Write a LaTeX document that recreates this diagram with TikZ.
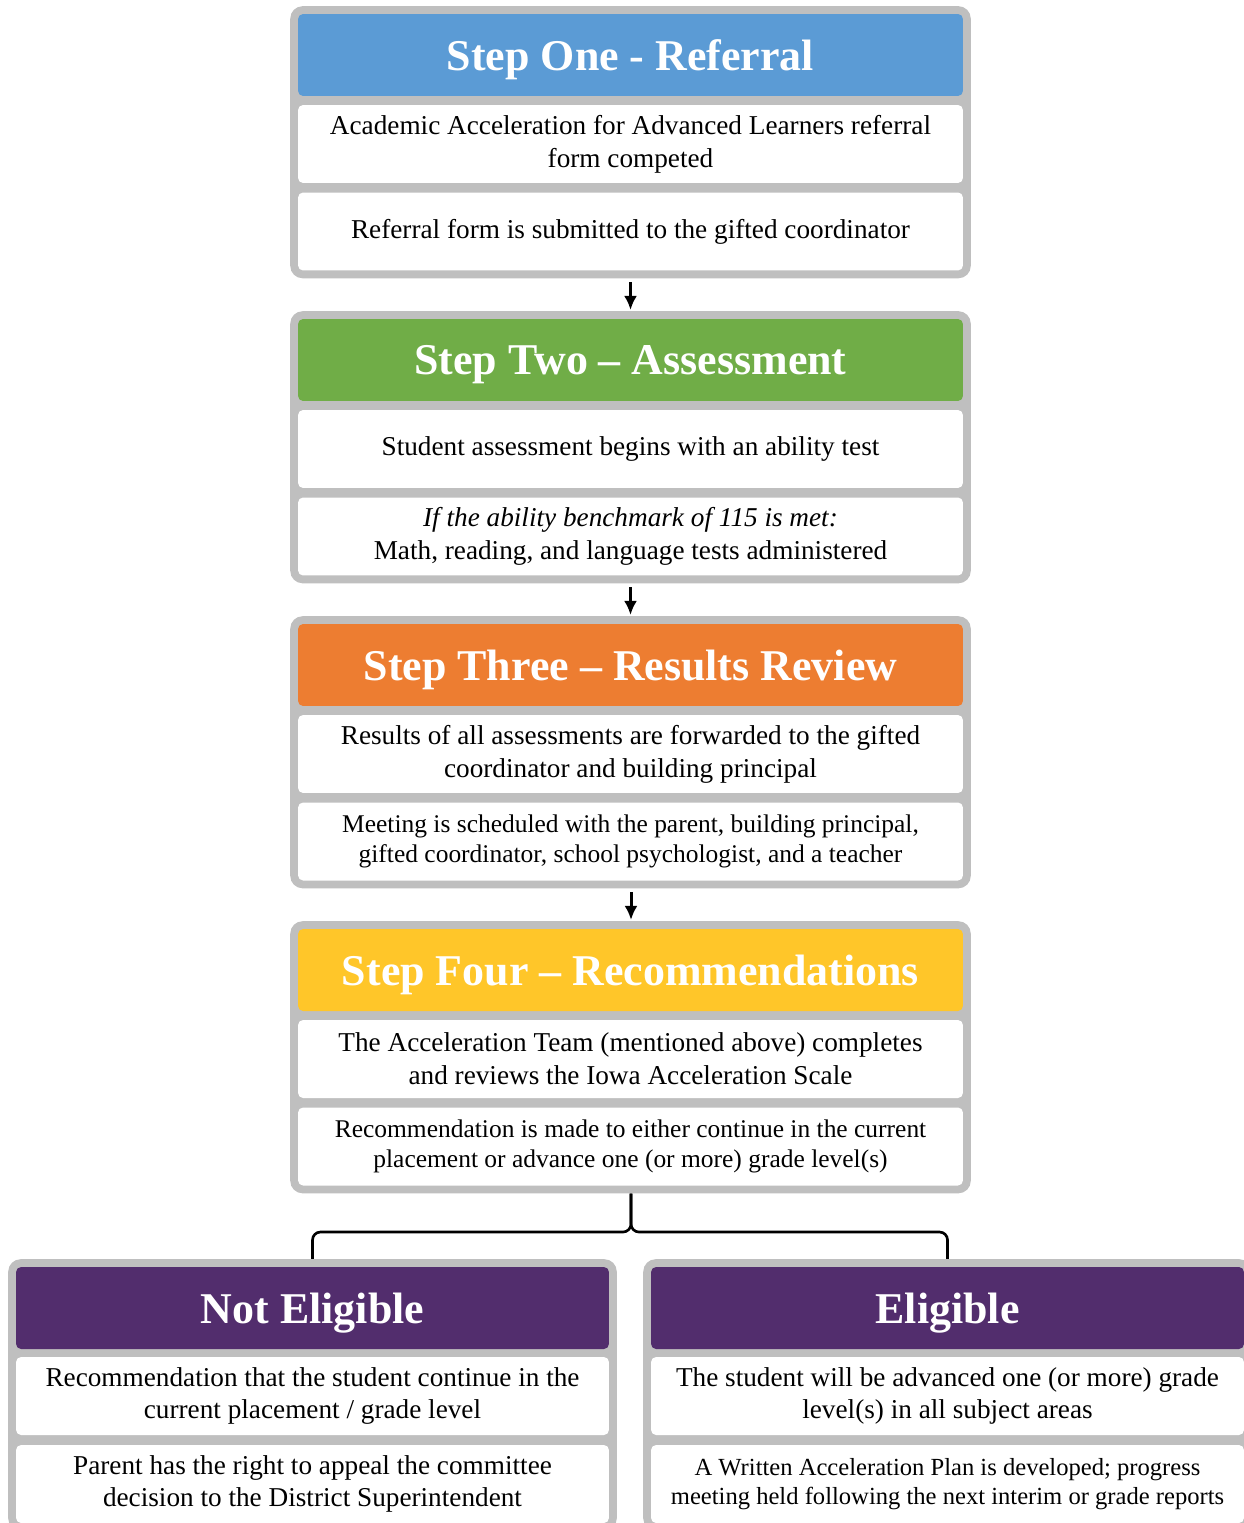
\documentclass[tikz,border=0pt]{standalone}
\usepackage{fontspec}
\setmainfont{Liberation Serif}
\usetikzlibrary{arrows.meta,fit,backgrounds}
\definecolor{stepblue}{HTML}{5B9BD5}
\definecolor{stepgreen}{HTML}{70AD47}
\definecolor{steporange}{HTML}{ED7D31}
\definecolor{stepyellow}{HTML}{FFC629}
\definecolor{steppurple}{HTML}{522D6D}
\definecolor{boxgray}{HTML}{BFBFBF}
\tikzset{
  head/.style={fill=#1, text=white, rounded corners=0.1cm, inner sep=0pt,
    minimum width=13.3cm, minimum height=1.64cm, text depth=0pt,
    font=\fontsize{25}{30}\selectfont\bfseries},
  item/.style={fill=white, rounded corners=0.1cm, inner sep=0pt, align=center,
    minimum width=13.3cm, minimum height=1.56cm,
    font=\fontsize{15.5}{18.7}\selectfont},
  graybox/.style={fill=boxgray, rounded corners=0.25cm, inner sep=0.15cm},
  flow/.style={-{Latex[length=0.28cm,width=0.26cm]}, line width=1.7pt,
    shorten <=2pt, shorten >=0.5pt},
  bracket/.style={line width=1.5pt, rounded corners=0.16cm}
}
\begin{document}
\begin{tikzpicture}[x=0.02cm, y=-0.02cm]
  \useasboundingbox (0,0) rectangle (1243,1523);
  \def\ystep{305}
  % step one
  \node[head=stepblue] (refhead) at (630.5,55) {Step One - Referral};
  \node[item] (refa) at (630.5,144)
    {Academic Acceleration for Advanced Learners referral\\form competed};
  \node[item] (refb) at (630.5,231.5)
    {Referral form is submitted to the gifted coordinator};
  % step two
  \node[head=stepgreen] (asshead) at (630.5,55+\ystep) {Step Two – Assessment};
  \node[item] (assa) at (630.5,144+\ystep)
    {Student assessment begins with an ability test};
  \node[item] (assb) at (630.5,231.5+\ystep)
    {\textit{If the ability benchmark of 115 is met:}\\Math, reading, and language tests administered};
  % step three
  \node[head=steporange] (revhead) at (630.5,55+2*\ystep) {Step Three – Results Review};
  \node[item] (reva) at (630.5,144+2*\ystep)
    {Results of all assessments are forwarded to the gifted\\coordinator and building principal};
  \node[item, font=\fontsize{14.5}{17}\selectfont] (revb) at (630.5,231.5+2*\ystep)
    {Meeting is scheduled with the parent, building principal,\\gifted coordinator, school psychologist, and a teacher};
  % step four
  \node[head=stepyellow] (rechead) at (630.5,55+3*\ystep) {Step Four – Recommendations};
  \node[item] (reca) at (630.5,144+3*\ystep)
    {The Acceleration Team (mentioned above) completes\\and reviews the Iowa Acceleration Scale};
  \node[item, font=\fontsize{14.5}{17.5}\selectfont] (recb) at (630.5,231.5+3*\ystep)
    {Recommendation is made to either continue in the current\\placement or advance one (or more) grade level(s)};
  % outcomes
  \node[head=steppurple, minimum width=11.86cm] (nohead) at (312.5,1308) {Not Eligible};
  \node[item, minimum width=11.86cm] (noa) at (312.5,1396)
    {Recommendation that the student continue in the\\current placement / grade level};
  \node[item, minimum width=11.86cm] (nob) at (312.5,1484)
    {Parent has the right to appeal the committee\\decision to the District Superintendent};
  \node[head=steppurple, minimum width=11.86cm] (yeshead) at (947.5,1308) {Eligible};
  \node[item, minimum width=11.86cm] (yesa) at (947.5,1396)
    {The student will be advanced one (or more) grade\\level(s) in all subject areas};
  \node[item, minimum width=11.86cm, font=\fontsize{14}{16.5}\selectfont] (yesb) at (947.5,1484)
    {A Written Acceleration Plan is developed; progress\\meeting held following the next interim or grade reports};
  % gray frames
  \begin{scope}[on background layer]
    \node[graybox, fit=(refhead)(refb)] (referral) {};
    \node[graybox, fit=(asshead)(assb)] (assessment) {};
    \node[graybox, fit=(revhead)(revb)] (review) {};
    \node[graybox, fit=(rechead)(recb)] (recommend) {};
    \node[graybox, fit=(nohead)(nob)] (noteli) {};
    \node[graybox, fit=(yeshead)(yesb)] (eli) {};
  \end{scope}
  % arrows
  \draw[flow] (referral) -- (assessment);
  \draw[flow] (assessment) -- (review);
  \draw[flow] (review.south -| 631,0) -- (recommend.north -| 631,0);
  \coordinate (fork) at (631,1232);
  \draw[bracket] (recommend.south -| fork) -- (fork) -| (noteli.north);
  \draw[bracket] (recommend.south -| fork) -- (fork) -| (eli.north);
\end{tikzpicture}
\end{document}
